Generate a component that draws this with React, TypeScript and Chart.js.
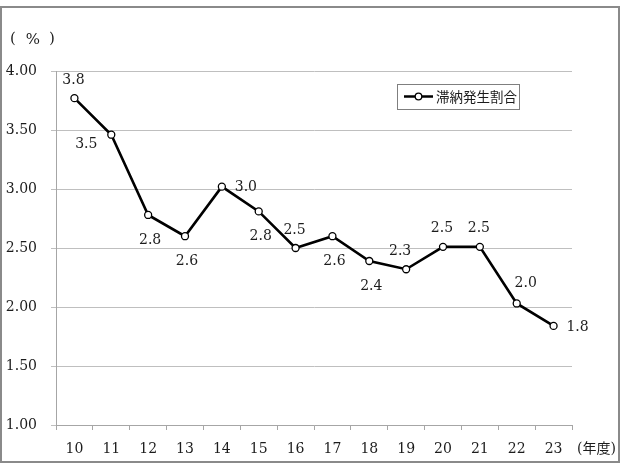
import React, { useEffect, useRef } from "react";
import { Chart, registerables } from "chart.js";

Chart.register(...registerables);

const categories = ["10", "11", "12", "13", "14", "15", "16", "17", "18", "19", "20", "21", "22", "23"];
const rates = [3.77, 3.46, 2.78, 2.6, 3.02, 2.81, 2.5, 2.6, 2.39, 2.32, 2.51, 2.51, 2.03, 1.84];
const valueLabels = ["3.8", "3.5", "2.8", "2.6", "3.0", "2.8", "2.5", "2.6", "2.4", "2.3", "2.5", "2.5", "2.0", "1.8"];
const labelPlacement = [
  "above", "belowLeft", "below", "below", "right", "below", "above",
  "below", "below", "aboveLeft", "above", "above", "aboveRight", "right",
];
const seriesName = "滞納発生割合";
const yUnit = "%";
const xUnit = "(年度)";

const SERIF = "'DejaVu Serif', 'Liberation Serif', serif";
const TEXT = "#1c1c1c";

const placementOffsets: Record<string, [number, number]> = {
  above: [-1, -18],
  below: [2, 25],
  belowLeft: [-25, 10],
  right: [24, 1],
  aboveLeft: [-6, -18],
  aboveRight: [9, -20],
};

const decorPlugin = {
  id: "decor",
  beforeDraw(chart: any) {
    const ctx = chart.ctx;
    ctx.save();
    ctx.fillStyle = "#ffffff";
    ctx.fillRect(0, 0, chart.width, chart.height);
    ctx.restore();
  },
  afterDraw(chart: any) {
    const ctx = chart.ctx;
    const area = chart.chartArea;
    ctx.save();
    // outer frame
    ctx.strokeStyle = "#8a8a8a";
    ctx.lineWidth = 2;
    ctx.strokeRect(1, 7, chart.width - 2, chart.height - 10);

    // y unit
    ctx.fillStyle = TEXT;
    ctx.font = `15px ${SERIF}`;
    ctx.textAlign = "center";
    ctx.textBaseline = "middle";
    ctx.fillText("(", 13, 39);
    ctx.fillText(yUnit, 33, 40);
    ctx.fillText(")", 52, 39);

    // x unit
    ctx.font = `14px ${SERIF}, 'Noto Sans CJK JP'`;
    ctx.textAlign = "left";
    ctx.fillText(xUnit, area.right + 5, 449);

    // legend
    const lx = 397, ly = 84, lw = 122, lh = 25;
    ctx.strokeStyle = "#7f7f7f";
    ctx.lineWidth = 1;
    ctx.strokeRect(lx + 0.5, ly + 0.5, lw, lh);
    const cy = ly + 12.5;
    ctx.strokeStyle = "#000";
    ctx.lineWidth = 2.5;
    ctx.beginPath();
    ctx.moveTo(lx + 7, cy);
    ctx.lineTo(lx + 36, cy);
    ctx.stroke();
    ctx.beginPath();
    ctx.arc(lx + 21.5, cy, 3.3, 0, Math.PI * 2);
    ctx.fillStyle = "#fff";
    ctx.fill();
    ctx.lineWidth = 1.3;
    ctx.stroke();
    ctx.fillStyle = TEXT;
    ctx.font = "13.5px 'Noto Sans CJK JP', sans-serif";
    ctx.textAlign = "left";
    ctx.textBaseline = "middle";
    ctx.fillText(seriesName, lx + 39, cy + 0.5);

    // data labels
    const meta = chart.getDatasetMeta(0);
    ctx.font = `14px ${SERIF}`;
    ctx.textAlign = "center";
    ctx.textBaseline = "middle";
    ctx.fillStyle = TEXT;
    meta.data.forEach((pt: any, i: number) => {
      const off = placementOffsets[labelPlacement[i]] || [0, -18];
      ctx.fillText(valueLabels[i], pt.x + off[0], pt.y + off[1]);
    });
    ctx.restore();
  },
};

export default function App() {
  const canvasRef = useRef<HTMLCanvasElement | null>(null);

  useEffect(() => {
    if (!canvasRef.current) return;
    const chart = new Chart(canvasRef.current, {
      type: "line",
      data: {
        labels: categories,
        datasets: [
          {
            label: seriesName,
            data: rates,
            borderColor: "#000",
            borderWidth: 2.6,
            pointRadius: 3.5,
            pointBorderWidth: 1.3,
            pointBackgroundColor: "#fff",
            pointBorderColor: "#000",
            tension: 0,
          },
        ],
      },
      options: {
        responsive: false,
        animation: false,
        devicePixelRatio: 1,
        layout: { padding: { left: 0, right: 48, top: 71, bottom: 0 } },
        plugins: {
          legend: { display: false },
          tooltip: { enabled: false },
        },
        scales: {
          x: {
            type: "category",
            offset: true,
            grid: {
              offset: true,
              drawOnChartArea: false,
              drawTicks: true,
              tickLength: 5,
              color: "#a6a6a6",
            },
            border: { color: "#a6a6a6", width: 1 },
            ticks: {
              color: TEXT,
              font: { family: SERIF, size: 14 },
              padding: 11,
              maxRotation: 0,
              autoSkip: false,
            },
            afterFit: (scale: any) => {
              scale.height = 40;
            },
          },
          y: {
            min: 1,
            max: 4,
            grid: {
              color: "#bfbfbf",
              lineWidth: 1,
              drawTicks: true,
              tickLength: 5,
            },
            border: { color: "#a6a6a6", width: 1 },
            ticks: {
              stepSize: 0.5,
              color: TEXT,
              font: { family: SERIF, size: 14 },
              padding: 14,
              callback: (v: any) => Number(v).toFixed(2),
            },
            afterFit: (scale: any) => {
              scale.width = 56;
            },
          },
        },
      },
      plugins: [decorPlugin],
    });
    return () => chart.destroy();
  }, []);

  return (
    <div style={{ position: "fixed", left: 0, top: 0, width: 620, height: 465, background: "#fff" }}>
      <canvas ref={canvasRef} width={620} height={465} style={{ display: "block" }} />
    </div>
  );
}
